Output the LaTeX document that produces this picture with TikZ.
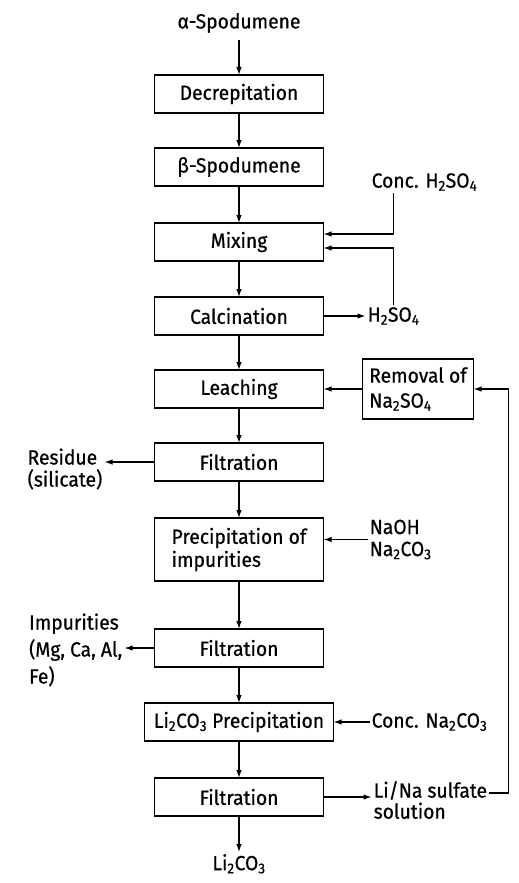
\documentclass[tikz,border=0pt]{standalone}
\usepackage{fontspec}
\setmainfont{Fira Sans}[FakeStretch=0.94,FakeBold=0.6]
\usepackage{tikz}
\usetikzlibrary{arrows.meta,positioning}

\begin{document}
\begin{tikzpicture}[
  x=1pt, y=1pt,
  font=\fontsize{20.5}{25}\selectfont,
  stage/.style={draw, line width=1.3pt, minimum height=38pt, minimum width=169pt,
                inner sep=3pt, outer sep=0pt, align=center},
  feed/.style={inner sep=2pt, align=left},
  line/.style={draw, line width=1.2pt, -{Latex[length=8pt,width=5.5pt]}},
  node distance=35pt and 40pt
]
\useasboundingbox (0,0) rectangle (519,-883);

% Stages
\node[stage] (decrep) at (239,-94) {Decrepitation};
\node[feed, above=40pt of decrep] (alpha) {α-Spodumene};
\node[stage, below=35pt of decrep] (beta) {β-Spodumene};
\node[stage, below=37pt of beta] (mix) {Mixing};
\node[stage, below=36pt of mix] (calc) {Calcination};
\node[stage, below=35pt of calc] (leach) {Leaching};
\node[stage, below=35pt of leach] (filt1) {Filtration};
\node[stage, below=37pt of filt1, minimum height=63pt, align=left] (precip) {Precipitation of\\[-2pt]impurities};
\node[stage, below=48pt of precip] (filt2) {Filtration};
\node[stage, below=36pt of filt2, minimum width=189pt] (li2p) {Li\textsubscript{2}CO\textsubscript{3} Precipitation};
\node[stage, below=37pt of li2p] (filt3) {Filtration};
\node[feed, below=36pt of filt3] (li2co3) {Li\textsubscript{2}CO\textsubscript{3}};

% Feeds and products
\node[feed, right=46pt of beta, yshift=-15pt] (conch) {Conc. H\textsubscript{2}SO\textsubscript{4}};
\node[feed, right=42pt of calc] (hsout) {H\textsubscript{2}SO\textsubscript{4}};
\node[stage, right=39pt of leach, minimum width=111pt, minimum height=60pt, align=left] (removal) {Removal of\\Na\textsubscript{2}SO\textsubscript{4}};
\node[feed, left=50pt of filt1, yshift=-7pt] (residue) {Residue\\[-3pt](silicate)};
\node[feed, right=44pt of precip, yshift=10pt] (naoh) {NaOH\\[-3pt]Na\textsubscript{2}CO\textsubscript{3}};
\node[feed, left=30pt of filt2, yshift=-2pt] (impur) {Impurities\\[2pt](Mg, Ca, Al,\\[2pt]Fe)};
\node[feed, right=36pt of li2p] (concna) {Conc. Na\textsubscript{2}CO\textsubscript{3}};
\node[feed, right=48pt of filt3, yshift=-3pt] (lina) {Li/Na sulfate\\[-4pt]solution};

% Main flow
\draw[line, shorten <=5pt] (alpha) -- (decrep);
\draw[line] (decrep) -- (beta);
\draw[line] (beta) -- (mix);
\draw[line] (mix) -- (calc);
\draw[line] (calc) -- (leach);
\draw[line] (leach) -- (filt1);
\draw[line] (filt1) -- (precip);
\draw[line] (precip) -- (filt2);
\draw[line] (filt2) -- (li2p);
\draw[line] (li2p) -- (filt3);
\draw[line] (filt3) -- (li2co3);

% Side flows
\draw[line] (conch.south -| hsout.north) |- ([yshift=8pt]mix.east);
\draw[line] (hsout.north) |- ([yshift=-6pt]mix.east);
\draw[line] (calc) -- (hsout);
\draw[line] (removal) -- (leach);
\draw[line] (filt1.west) -- (filt1.west -| residue.east);
\draw[line] (naoh.west) -- (naoh.west -| precip.east);
\draw[line] (filt2.west) -- (filt2.west -| impur.east);
\draw[line] (concna) -- (li2p);
\draw[line] (filt3.east) -- (filt3.east -| lina.west);
\draw[line] ([yshift=7pt]lina.east) -| ([xshift=35pt]removal.east) -- (removal.east);
\end{tikzpicture}
\end{document}
